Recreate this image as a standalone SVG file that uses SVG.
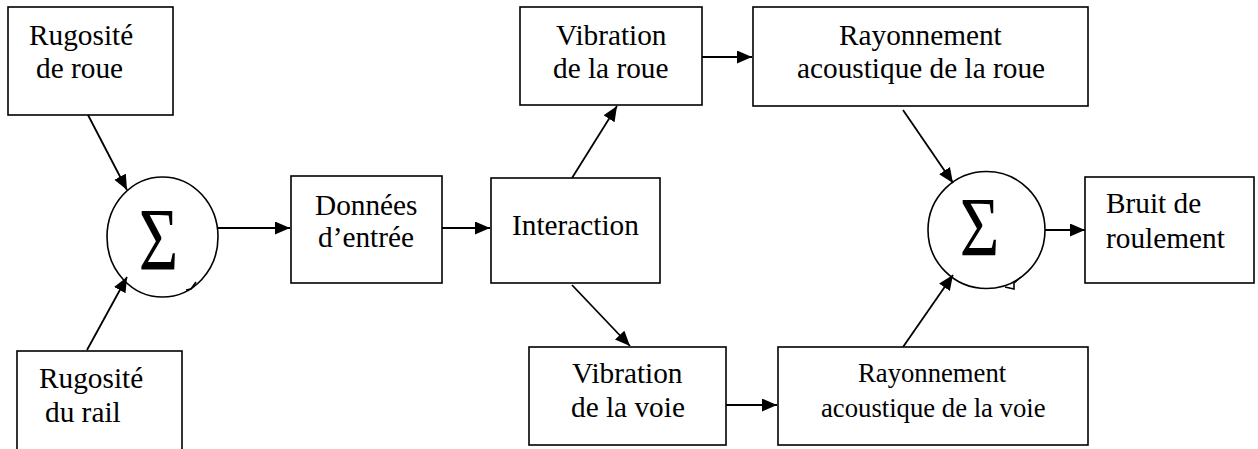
<svg xmlns="http://www.w3.org/2000/svg" width="1258" height="449" viewBox="0 0 1258 449">
<style>
.box{fill:#fff;stroke:#000;stroke-width:1.6}
.sum{fill:#fff;stroke:#000;stroke-width:1.6}
.bump{fill:none;stroke:#000;stroke-width:1.6}
.t{font-family:"Liberation Serif","Times New Roman",serif;font-size:29.3px;fill:#000}
.ts{font-family:"Liberation Serif","Times New Roman",serif;font-size:26.7px;fill:#000}
.sig{font-family:"Liberation Serif","Times New Roman",serif;font-size:68px;fill:#000;text-anchor:middle}
.c{stroke:#000;stroke-width:1.8;fill:none;marker-end:url(#ah)}
</style>
<defs>
<marker id="ah" markerUnits="userSpaceOnUse" markerWidth="16" markerHeight="14" refX="15" refY="6.5" orient="auto">
<path d="M0,0 L15,6.5 L0,13 z" fill="#000"/>
</marker>
</defs>
<rect width="1258" height="449" fill="#fff"/>
<g id="rug-roue">
<rect class="box" x="8" y="7" width="165" height="108"/>
<text class="t" x="29" y="45">Rugosité</text>
<text class="t" x="36" y="78">de roue</text>
</g>
<g id="rug-rail">
<rect class="box" x="17" y="351" width="165" height="110"/>
<text class="t" x="39" y="388">Rugosité</text>
<text class="t" x="45" y="422">du rail</text>
</g>
<g id="sum1">
<ellipse class="sum" cx="162.5" cy="237" rx="55.5" ry="60"/>
<path class="bump" d="M196,282 L191,289 L186,290"/>
<text class="sig" transform="translate(158.5,269) scale(1,1.32)">Σ</text>
</g>
<g id="donnees">
<rect class="box" x="291" y="176" width="151" height="107"/>
<text class="t" x="315" y="215">Données</text>
<text class="t" x="318" y="247">d’entrée</text>
</g>
<g id="interaction">
<rect class="box" x="491" y="178" width="169" height="105"/>
<text class="t" x="512" y="235">Interaction</text>
</g>
<g id="vib-roue">
<rect class="box" x="520" y="7" width="182" height="98"/>
<text class="t" x="556" y="45">Vibration</text>
<text class="t" x="553" y="78">de la roue</text>
</g>
<g id="vib-voie">
<rect class="box" x="529" y="347" width="197" height="98"/>
<text class="t" x="572" y="383">Vibration</text>
<text class="t" x="571" y="417">de la voie</text>
</g>
<g id="ray-roue">
<rect class="box" x="753" y="7" width="335" height="99"/>
<text class="t" x="839" y="45">Rayonnement</text>
<text class="t" x="797" y="78">acoustique de la roue</text>
</g>
<g id="ray-voie">
<rect class="box" x="778" y="347" width="310" height="98"/>
<text class="ts" x="858" y="382">Rayonnement</text>
<text class="ts" x="821" y="417">acoustique de la voie</text>
</g>
<g id="sum2">
<circle class="sum" cx="986.5" cy="230" r="58.5"/>
<path class="bump" d="M1021,277 L1014,283 L1014,289 L1005,287"/>
<text class="sig" transform="translate(979.5,256) scale(1,1.25)">Σ</text>
</g>
<g id="bruit">
<rect class="box" x="1085" y="177" width="169" height="106"/>
<text class="t" x="1106" y="213">Bruit de</text>
<text class="t" x="1106" y="248">roulement</text>
</g>
<g id="connectors">
<line class="c" x1="88" y1="115" x2="127" y2="190"/>
<line class="c" x1="87" y1="350" x2="127" y2="277"/>
<line class="c" x1="218" y1="228" x2="290" y2="228"/>
<line class="c" x1="442" y1="228" x2="490" y2="228"/>
<line class="c" x1="572" y1="178" x2="617" y2="106"/>
<line class="c" x1="572" y1="285" x2="630" y2="346"/>
<line class="c" x1="702" y1="57" x2="752" y2="57"/>
<line class="c" x1="726" y1="405" x2="777" y2="405"/>
<line class="c" x1="903" y1="110" x2="953" y2="183"/>
<line class="c" x1="903" y1="347" x2="953" y2="275"/>
<line class="c" x1="1045" y1="230" x2="1085" y2="230"/>
</g>
</svg>
